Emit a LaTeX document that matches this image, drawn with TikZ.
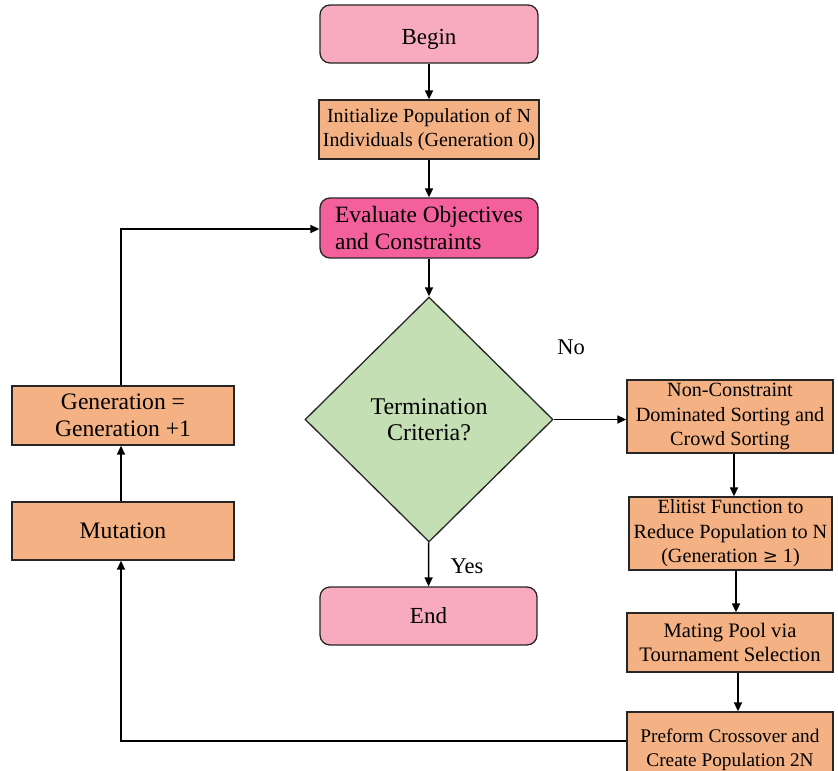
\documentclass[tikz,border=0pt]{standalone}
\usepackage{fontspec}
\setmainfont{Liberation Serif}
\newfontfamily\symfont{DejaVu Serif}
\usetikzlibrary{shapes.geometric,arrows.meta}
\definecolor{lpink}{HTML}{F8ABBF}
\definecolor{hpink}{HTML}{F3609C}
\definecolor{orng}{HTML}{F4B183}
\definecolor{lgreen}{HTML}{C5DFB4}
\tikzset{
  base/.style={draw=black!85, line width=1.3pt, align=center, inner sep=0pt, font=\fontsize{20.2}{24.5}\selectfont},
  term/.style={base, rounded corners=10pt, fill=lpink, font=\fontsize{23}{27}\selectfont},
  evalbox/.style={base, rounded corners=10pt, fill=hpink, align=left, font=\fontsize{23.4}{27}\selectfont},
  procbox/.style={base, fill=orng},
  bigproc/.style={procbox, font=\fontsize{23.6}{26.5}\selectfont},
  decis/.style={base, diamond, fill=lgreen, aspect=1.01, inner sep=0pt, font=\fontsize{24}{26}\selectfont},
  arr/.style={line width=1.6pt, -{Triangle[length=9pt,width=8pt]}},
  lbl/.style={font=\fontsize{22.5}{26}\selectfont}
}
\begin{document}
\begin{tikzpicture}[x=1pt,y=-1pt]
\useasboundingbox (0,0) rectangle (838,771);
\node[term, minimum width=218pt, minimum height=58pt, text height=20pt, text depth=0pt] (begin) at (429,34) {Begin};
\node[procbox, font=\fontsize{20}{24.5}\selectfont, minimum width=220pt, minimum height=59pt] (init) at (429,129.5) {Initialize Population of N\\Individuals (Generation 0)};
\node[evalbox, minimum width=218pt, minimum height=60pt] (eval) at (429,228) {Evaluate Objectives\\and Constraints};
\node[decis, minimum width=248pt, minimum height=245pt] (dec) at (429,419.5) {Termination\\Criteria?};
\node[term, minimum width=217pt, minimum height=58pt] (end) at (428.5,616) {End};
\node[procbox, minimum width=206pt, minimum height=73pt] (ncds) at (730,416.5) {Non-Constraint\\Dominated Sorting and\\Crowd Sorting};
\node[procbox, minimum width=203pt, minimum height=73pt] (elit) at (730.5,533.5) {Elitist Function to\\Reduce Population to N\\(Generation {\symfont\fontsize{18}{24}\selectfont≥} 1)};
\node[procbox, font=\fontsize{20.6}{24.5}\selectfont, minimum width=206pt, minimum height=59pt] (mate) at (730,642.5) {Mating Pool via\\Tournament Selection};
\node[procbox, font=\fontsize{19.3}{23.5}\selectfont, minimum width=206pt, minimum height=66pt, text depth=0pt] (cross) at (730,745) {\raisebox{6pt}{\parbox{206pt}{\centering Preform Crossover and\\Create Population 2N}}};
\node[bigproc, minimum width=222pt, minimum height=59pt] (gen) at (123,415.5) {Generation =\\Generation +1};
\node[bigproc, minimum width=222pt, minimum height=58pt] (mut) at (123,531) {Mutation};
\node[lbl] (no) at (571,347) {No};
\node[lbl] (yes) at (467,566) {Yes};
\coordinate (c1) at (121,741);
\coordinate (c2) at (121,229);
\draw[arr] (begin) -- (init);
\draw[arr] (init) -- (eval);
\draw[arr] (eval) -- (dec);
\draw[arr] (dec) -- (end);
\draw[arr] (dec.east) -- (ncds.west |- dec.east);
\draw[arr] (ncds.south -| 734,0) -- (734,0 |- elit.north);
\draw[arr] (elit.south -| 736,0) -- (736,0 |- mate.north);
\draw[arr] (mate.south -| 738,0) -- (738,0 |- cross.north);
\draw[arr] (cross.west |- c1) -- (c1) -- (c1 |- mut.south);
\draw[arr] (mut.north -| c1) -- (c1 |- gen.south);
\draw[arr] (gen.north -| c1) -- (c2) -- (eval.west |- c2);
\end{tikzpicture}
\end{document}
